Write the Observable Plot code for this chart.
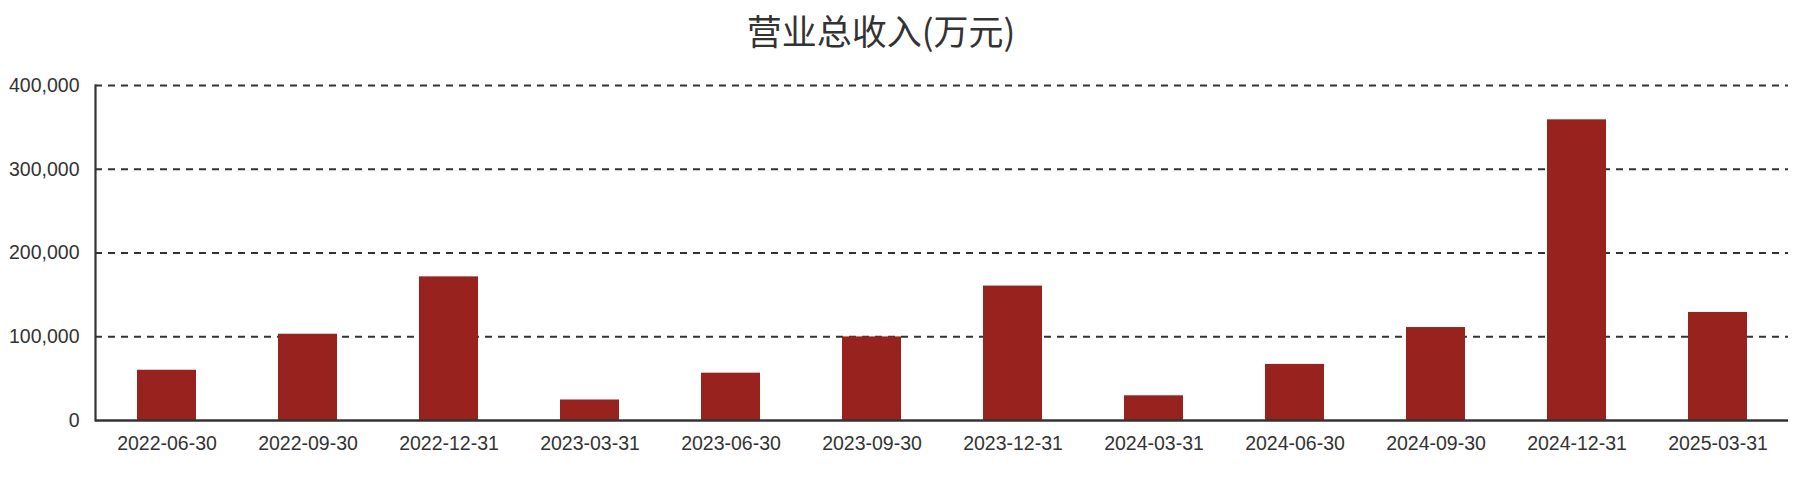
<!DOCTYPE html>
<html>
<head>
<meta charset="utf-8">
<script src="https://cdn.jsdelivr.net/npm/d3@7"></script>
<script src="https://cdn.jsdelivr.net/npm/@observablehq/plot@0.6"></script>
<style>
  html, body { margin: 0; padding: 0; background: #fff; }
  #title {
    width: 1762px; height: 64px; line-height: 60px; text-align: center;
    font-family: "Noto Sans CJK SC", "Noto Sans", sans-serif; font-size: 35px; color: #333;
  }
</style>
</head>
<body>
<div id="title">营业总收入(万元)</div>
<div id="chart"></div>
<script>
const titleText = "营业总收入(万元)";
const periods = ["2022-06-30","2022-09-30","2022-12-31","2023-03-31","2023-06-30","2023-09-30","2023-12-31","2024-03-31","2024-06-30","2024-09-30","2024-12-31","2025-03-31"];
const revenue = [60000, 103000, 171500, 24500, 56500, 99800, 160500, 29500, 67000, 111000, 359000, 129000];
const yTicks = [0, 100000, 200000, 300000, 400000];

const data = periods.map((p, i) => ({period: p, value: revenue[i]}));

document.getElementById("title").textContent = titleText;

const chart = Plot.plot({
  width: 1810,
  height: 438,
  marginTop: 21,
  marginBottom: 82,
  marginLeft: 95,
  marginRight: 22,
  style: {fontFamily: "'Liberation Sans', Arial, sans-serif", fontSize: "19.5px", color: "#333", background: "#fff"},
  x: {type: "band", domain: periods, paddingInner: 0.584, paddingOuter: 0.292, label: null},
  y: {domain: [0, 400000], label: null},
  marks: [
    Plot.ruleY(yTicks.filter(d => d > 0), {stroke: "#333", strokeWidth: 1.8, strokeDasharray: "7,6"}),
    Plot.barY(data, {x: "period", y: "value", fill: "#98231e"}),
    Plot.ruleY([0], {stroke: "#333", strokeWidth: 2.5}),
    Plot.frame({anchor: "left", stroke: "#333", strokeWidth: 2.2}),
    Plot.axisY({ticks: yTicks, tickSize: 0, tickPadding: 16, tickFormat: d3.format(","), label: null}),
    Plot.axisX({tickSize: 0, tickPadding: 16, label: null})
  ]
});
document.getElementById("chart").appendChild(chart);
</script>
</body>
</html>
